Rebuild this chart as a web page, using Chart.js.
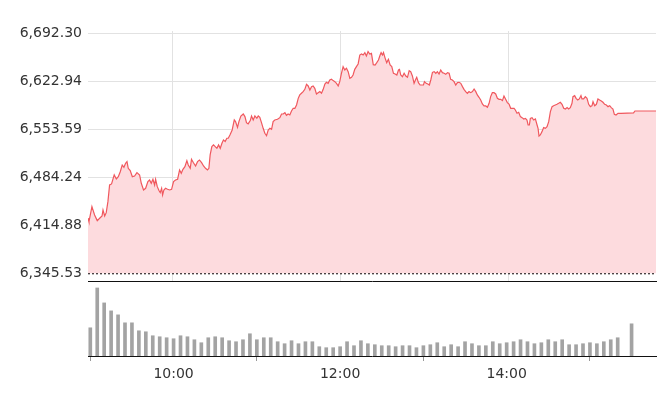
<!DOCTYPE html>
<html>
<head>
<meta charset="utf-8">
<script src="https://cdn.jsdelivr.net/npm/chart.js@4/dist/chart.umd.min.js"></script>
<style>
  html, body { margin: 0; padding: 0; background: #fff; }
  #wrap { position: relative; width: 658px; height: 408px; overflow: hidden; }
  #priceChart { position: absolute; left: 0; top: 0; }
  #volumeChart { position: absolute; left: 0; top: 282px; }
</style>
</head>
<body>
<div id="wrap">
  <canvas id="priceChart" width="658" height="296"></canvas>
  <canvas id="volumeChart" width="658" height="126"></canvas>
</div>
<script>
// minutes after 09:00 and index level
const priceTimes = [
  0.0, 0.7, 2.8, 4.7, 6.6, 8.3, 10.0, 10.7, 11.9, 13.0, 14.2, 15.4, 16.8, 18.7, 20.2, 21.6, 23.0, 24.4, 25.6, 26.8,
  27.8, 28.7, 30.1, 31.6, 33.2, 34.9, 36.8, 38.0, 39.6, 41.1, 42.7, 43.9, 45.1, 46.3, 47.5, 48.2, 49.4, 50.6, 51.5, 52.5,
  53.2, 54.1, 55.3, 56.7, 58.2, 59.6, 61.0, 62.4, 63.9, 65.3, 66.5, 67.7, 69.1, 70.5, 71.5, 72.9, 73.8, 75.2, 76.7, 78.1,
  79.5, 81.0, 82.4, 83.8, 85.2, 86.2, 87.1, 88.3, 89.5, 90.7, 91.9, 93.1, 94.3, 95.5, 96.6, 97.8, 99.0, 100.0, 101.2, 102.8,
  104.3, 105.2, 106.6, 107.6, 109.0, 110.7, 111.9, 113.0, 114.2, 115.7, 116.6, 117.8, 119.0, 120.4, 121.4, 122.5, 123.7, 124.9, 126.1, 127.3,
  128.5, 129.7, 130.9, 132.0, 133.2, 135.1, 136.8, 138.0, 139.2, 140.4, 141.5, 142.7, 143.9, 145.1, 146.3, 147.5, 148.7, 149.9, 151.0, 152.2,
  153.4, 154.6, 155.8, 157.0, 158.2, 159.4, 160.5, 161.7, 162.9, 164.1, 165.3, 166.5, 167.7, 168.9, 170.0, 171.2, 172.4, 173.6, 174.8, 176.0,
  177.2, 178.4, 179.5, 180.7, 181.9, 183.1, 184.3, 185.5, 186.7, 187.9, 189.0, 190.2, 191.4, 192.6, 193.8, 195.0, 196.2, 197.4, 198.5, 199.7,
  200.9, 202.1, 203.4, 204.7, 205.9, 207.1, 208.3, 209.0, 210.0, 210.7, 211.9, 213.0, 214.2, 215.4, 216.6, 217.8, 219.0, 220.2, 221.4, 222.1,
  223.0, 224.2, 225.4, 226.6, 227.8, 229.0, 230.1, 231.3, 232.5, 233.7, 234.4, 235.6, 236.8, 238.0, 239.2, 239.9, 241.1, 242.3, 243.4, 244.4,
  245.6, 246.8, 248.0, 249.1, 250.3, 251.5, 252.7, 253.9, 255.1, 256.3, 257.5, 258.6, 259.8, 261.0, 262.2, 263.4, 264.6, 265.8, 267.0, 268.1,
  269.3, 270.5, 271.7, 272.9, 274.1, 275.3, 276.5, 277.6, 278.8, 280.0, 281.2, 282.4, 283.6, 284.8, 286.0, 287.1, 288.3, 289.5, 290.7, 291.9,
  293.1, 294.3, 295.5, 296.6, 297.8, 299.0, 300.2, 301.4, 302.6, 303.8, 304.7, 305.9, 307.1, 308.3, 309.5, 310.7, 311.9, 313.0, 313.8, 314.7,
  315.4, 316.6, 317.8, 319.0, 320.2, 320.9, 321.6, 322.5, 323.7, 324.9, 326.1, 327.3, 328.5, 329.7, 330.9, 332.0, 333.2, 334.4, 335.6, 336.8,
  338.0, 339.2, 340.4, 341.6, 342.7, 343.9, 345.1, 345.8, 347.0, 348.0, 349.2, 350.3, 351.5, 352.2, 353.4, 354.6, 355.8, 357.0, 358.2, 359.4,
  360.1, 361.3, 362.5, 363.6, 364.8, 366.0, 367.2, 368.4, 369.6, 370.8, 372.0, 373.1, 374.3, 375.3, 376.5, 377.9, 380.0, 389.0, 390.0, 405.0
];
const priceValues = [
  6425.0, 6420.1, 6441.8, 6429.8, 6421.6, 6425.0, 6428.3, 6437.0, 6428.3, 6433.1, 6449.0, 6473.1, 6474.6, 6487.6, 6481.8, 6485.1, 6492.3, 6502.0, 6498.7, 6504.5,
  6506.8, 6497.2, 6493.8, 6485.1, 6486.1, 6490.9, 6487.6, 6475.6, 6465.9, 6468.3, 6477.9, 6480.3, 6475.6, 6481.4, 6473.1, 6481.4, 6470.7, 6465.0, 6462.0, 6468.3,
  6458.7, 6465.9, 6468.3, 6466.9, 6465.9, 6466.9, 6477.9, 6480.3, 6481.4, 6494.8, 6490.0, 6495.8, 6499.6, 6508.2, 6502.0, 6497.2, 6510.2, 6505.3, 6500.6, 6506.8,
  6509.2, 6505.3, 6500.6, 6497.2, 6494.8, 6497.2, 6516.5, 6528.6, 6531.0, 6528.6, 6526.1, 6531.0, 6526.1, 6533.4, 6538.2, 6535.8, 6540.6, 6540.6, 6545.4, 6552.6,
  6567.0, 6564.6, 6556.4, 6564.6, 6572.8, 6575.7, 6571.9, 6563.2, 6561.3, 6566.1, 6572.8, 6567.0, 6572.8, 6569.4, 6572.8, 6570.9, 6563.2, 6555.0, 6547.8, 6544.4,
  6552.6, 6555.0, 6553.6, 6564.6, 6567.0, 6568.0, 6570.4, 6575.7, 6575.7, 6577.6, 6573.8, 6575.7, 6574.3, 6580.0, 6583.9, 6583.9, 6588.7, 6598.3, 6603.2, 6605.6,
  6608.0, 6611.3, 6618.6, 6616.2, 6610.4, 6615.2, 6616.2, 6612.8, 6604.6, 6606.5, 6608.0, 6605.6, 6611.3, 6619.0, 6621.4, 6620.0, 6624.8, 6625.8, 6623.9, 6622.4,
  6620.0, 6616.2, 6622.4, 6634.5, 6644.1, 6639.3, 6641.7, 6636.9, 6627.2, 6628.7, 6632.0, 6640.2, 6644.1, 6648.0, 6660.9, 6662.4, 6660.9, 6664.3, 6659.5, 6665.8,
  6662.4, 6663.4, 6647.0, 6646.5, 6649.9, 6653.7, 6660.9, 6664.3, 6660.9, 6664.3, 6656.1, 6649.9, 6654.7, 6646.5, 6644.1, 6634.5, 6633.5, 6632.0, 6639.3, 6640.2,
  6632.0, 6629.6, 6634.5, 6630.6, 6628.7, 6638.3, 6636.9, 6630.6, 6620.0, 6625.8, 6628.7, 6621.0, 6617.6, 6617.6, 6617.6, 6622.4, 6620.0, 6619.0, 6617.6, 6624.8,
  6635.9, 6636.9, 6634.5, 6636.9, 6633.5, 6639.3, 6635.4, 6634.5, 6633.0, 6635.4, 6634.5, 6625.8, 6624.8, 6622.4, 6617.6, 6621.0, 6621.5, 6620.0, 6615.2, 6611.3,
  6608.0, 6605.6, 6608.0, 6606.5, 6608.0, 6611.8, 6608.0, 6603.2, 6599.8, 6595.9, 6590.1, 6587.3, 6587.3, 6585.3, 6591.1, 6600.8, 6606.5, 6606.5, 6604.6, 6598.3,
  6596.9, 6596.9, 6595.0, 6601.7, 6596.9, 6592.1, 6590.1, 6583.9, 6583.9, 6583.9, 6581.5, 6576.7, 6578.1, 6571.9, 6570.4, 6568.5, 6569.4, 6567.0, 6559.8, 6559.8,
  6569.4, 6570.4, 6567.0, 6568.5, 6559.8, 6555.0, 6543.9, 6545.4, 6550.2, 6556.0, 6555.0, 6557.4, 6564.6, 6579.1, 6586.3, 6587.7, 6588.7, 6589.7, 6591.1, 6592.6,
  6589.7, 6583.9, 6582.9, 6584.9, 6582.9, 6584.9, 6591.1, 6600.7, 6602.2, 6598.3, 6595.9, 6597.4, 6602.2, 6597.4, 6597.4, 6600.7, 6598.3, 6589.7, 6586.3, 6587.7,
  6593.5, 6587.7, 6589.7, 6597.4, 6595.9, 6594.5, 6592.6, 6589.7, 6588.7, 6586.3, 6587.7, 6584.9, 6582.9, 6575.2, 6574.3, 6576.7, 6576.7, 6577.2, 6580.0, 6580.0
];
const prevClose = 6345.53;
const yTicks = [6345.53, 6414.88, 6484.24, 6553.59, 6622.94, 6692.30];
const timeTicks = [60, 180, 300];   // 10:00, 12:00, 14:00

// 5-minute volume bars (relative units)
const volumeTimes = [
  0, 5, 10, 15, 20, 25, 30, 35, 40, 45, 50, 55, 60, 65, 70, 75, 80, 85, 90, 95,
  100, 105, 110, 115, 120, 125, 130, 135, 140, 145, 150, 155, 160, 165, 170, 175, 180, 185, 190, 195,
  200, 205, 210, 215, 220, 225, 230, 235, 240, 245, 250, 255, 260, 265, 270, 275, 280, 285, 290, 295,
  300, 305, 310, 315, 320, 325, 330, 335, 340, 345, 350, 355, 360, 365, 370, 375, 380, 390
];
const volumeValues = [
  85, 205, 160, 136, 124, 100, 100, 76, 73, 61, 58, 55, 52, 61, 58, 49, 40, 55, 58, 55,
  46, 43, 49, 67, 49, 55, 55, 43, 37, 46, 37, 43, 43, 28, 25, 25, 28, 43, 31, 46,
  37, 34, 31, 31, 28, 31, 31, 25, 31, 34, 40, 28, 34, 28, 43, 37, 31, 31, 43, 37,
  40, 43, 49, 43, 37, 40, 49, 43, 49, 34, 34, 37, 40, 37, 43, 49, 55, 97
];

const FONT = { family: "'DejaVu Sans', sans-serif", size: 14 };
const TEXT = '#333';
const GRID = '#e2e2e2';

function timeLabel(t) {
    const h = 9 + Math.floor(t / 60);
    const m = t % 60;
    return h + ':' + String(m).padStart(2, '0');
}

const pricePoints = priceTimes.map((t, i) => ({ x: t, y: priceValues[i] }));

new Chart(document.getElementById('priceChart'), {
    type: 'line',
    data: {
        datasets: [{
            data: pricePoints,
            borderColor: 'rgb(240, 88, 94)',
            borderWidth: 1.2,
            backgroundColor: 'rgb(253, 219, 222)',
            fill: { value: prevClose },
            pointRadius: 0,
            tension: 0
        }, {
            data: [{ x: 0, y: prevClose }, { x: 405, y: prevClose }],
            borderColor: '#111',
            borderWidth: 2,
            borderDash: [2, 2],
            pointRadius: 0,
            fill: false
        }]
    },
    options: {
        responsive: false,
        animation: false,
        events: [],
        layout: { padding: { top: 31, right: 2, bottom: 3, left: 0 } },
        plugins: { legend: { display: false }, tooltip: { enabled: false } },
        scales: {
            x: {
                type: 'linear',
                min: 0,
                max: 405,
                afterBuildTicks: axis => { axis.ticks = timeTicks.map(v => ({ value: v })); },
                afterFit: axis => { axis.height = 0; },
                ticks: { display: false },
                grid: { color: GRID, drawTicks: false },
                border: { color: '#111', width: 1 }
            },
            y: {
                min: 6333.5,
                max: 6695.6,
                afterBuildTicks: axis => { axis.ticks = yTicks.map(v => ({ value: v })); },
                afterFit: axis => { axis.width = 88; },
                ticks: {
                    color: TEXT,
                    font: FONT,
                    padding: 6,
                    callback: v => v.toLocaleString('en-US', { minimumFractionDigits: 2, maximumFractionDigits: 2 })
                },
                grid: {
                    color: ctx => (ctx.tick && ctx.tick.value === prevClose) ? 'rgba(0,0,0,0)' : GRID,
                    drawTicks: false
                },
                border: { display: false }
            }
        }
    }
});

new Chart(document.getElementById('volumeChart'), {
    type: 'bar',
    data: {
        datasets: [{
            data: volumeTimes.map((t, i) => ({ x: t, y: volumeValues[i] })),
            backgroundColor: '#a3a3a3',
            barThickness: 3
        }]
    },
    options: {
        responsive: false,
        animation: false,
        events: [],
        layout: { padding: { top: 0, right: 2, bottom: 0, left: 88 } },
        plugins: { legend: { display: false }, tooltip: { enabled: false } },
        scales: {
            x: {
                type: 'linear',
                min: -1.66,
                max: 407.6,
                offset: false,
                afterBuildTicks: axis => { axis.ticks = timeTicks.map(v => ({ value: v })); },
                afterFit: axis => { axis.height = 126 - 74; },
                ticks: {
                    color: TEXT,
                    font: FONT,
                    padding: 5,
                    maxRotation: 0,
                    callback: v => timeLabel(v)
                },
                grid: { drawOnChartArea: false, drawTicks: true, tickLength: 5, tickColor: '#999' },
                border: { color: '#111', width: 1 }
            },
            y: {
                display: false,
                min: 0,
                max: 223
            }
        }
    }
});
</script>
</body>
</html>
